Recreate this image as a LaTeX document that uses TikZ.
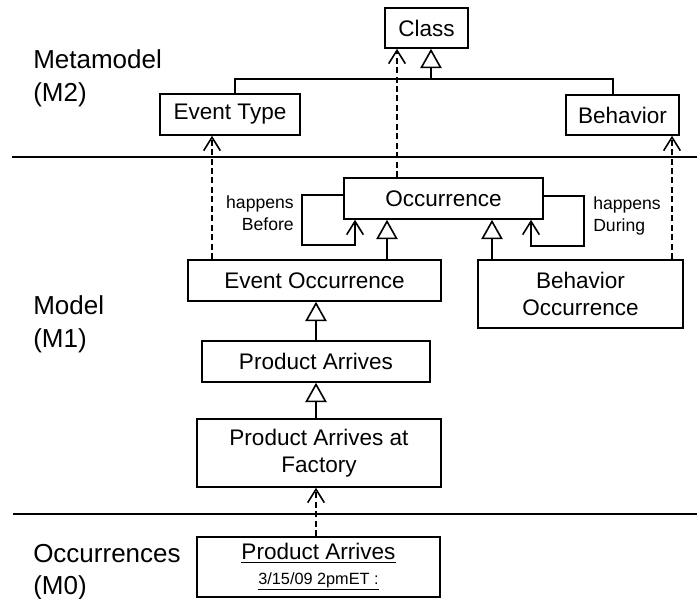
\documentclass[tikz,border=0pt]{standalone}
\usepackage{fontspec}
\setmainfont{Liberation Sans}
\usetikzlibrary{arrows.meta}
\newcommand\boxfont{\fontsize{16.9}{20.25}\selectfont}
\newcommand\lblfont{\fontsize{19.5}{24.75}\selectfont}
\newcommand\smfont{\fontsize{13.2}{16.5}\selectfont}
\newcommand\datefont{\fontsize{12.2}{14}\selectfont}
\tikzset{
  umlbox/.style={draw, line width=1.2pt, font=\boxfont, align=center, inner sep=0pt},
  gen/.style={line width=1.2pt, -{Triangle[open,length=14.5pt,width=16pt,fill=white]}},
  dep/.style={line width=1.2pt, dash pattern=on 4.5pt off 2.6pt, -{Straight Barb[length=10pt,width=12.5pt]}},
  assoc/.style={line width=1.2pt, -{Straight Barb[length=10pt,width=12.5pt]}},
  plain/.style={line width=1.2pt},
  sep/.style={line width=1.5pt},
  lvl/.style={font=\lblfont, anchor=base west, inner sep=0pt},
  role/.style={font=\smfont, inner sep=0pt}
}
\begin{document}
\begin{tikzpicture}[x=0.75pt,y=-0.75pt]
\useasboundingbox (0,0) rectangle (697,599);
% level labels
\node[lvl] (l2a) at (33,69) {Metamodel};
\node[lvl] (l2b) at (33,102) {(M2)};
\node[lvl] (l1a) at (33,315) {Model};
\node[lvl] (l1b) at (33,348) {(M1)};
\node[lvl] (l0a) at (33,562) {Occurrences};
\node[lvl] (l0b) at (33,594) {(M0)};
% separators
\draw[sep] (12,157) -- (697,157);
\draw[sep] (13,514) -- (697,514);
% boxes
\node[umlbox, minimum width=62.25pt, minimum height=30pt] (cls) at (426.5,28) {Class};
\node[umlbox, minimum width=105pt, minimum height=30.75pt] (et) at (230,114.5) {Event Type};
\node[umlbox, minimum width=84.75pt, minimum height=30pt] (beh) at (622.5,115) {Behavior};
\node[umlbox, minimum width=149.25pt, minimum height=30.75pt] (occ) at (443.5,198.5) {Occurrence};
\node[umlbox, minimum width=189.75pt, minimum height=30.75pt] (eo) at (314.5,280.5) {Event Occurrence};
\node[umlbox, minimum width=153.75pt, minimum height=51pt] (bo) at (580.5,294) {Behavior\\Occurrence};
\node[umlbox, minimum width=171pt, minimum height=30.75pt] (pa) at (316,361.5) {Product Arrives};
\node[umlbox, minimum width=183pt, minimum height=51pt] (paf) at (319,453) {Product Arrives at\\Factory};
\node[umlbox, minimum width=182.25pt, minimum height=45pt] (inst) at (318.5,567)
  {\underline{Product Arrives}\\[-2pt]{\datefont\underline{3/15/09 2pmET :}}};
% generalization tree to Class
\coordinate (hL) at (235,79);
\coordinate (hR) at (613,79);
\coordinate (hC) at (431,79);
\draw[plain] (hL |- et.north) -- (hL) -- (hR) -- (hR |- beh.north);
\draw[gen] (hC) -- (hC |- cls.south);
% dependencies
\coordinate (d1) at (397,0);
\coordinate (d2) at (212,0);
\coordinate (d3) at (672,0);
\coordinate (d4) at (316,0);
\draw[dep] (d1 |- occ.north) -- (d1 |- cls.south);
\draw[dep] (d2 |- eo.north) -- (d2 |- et.south);
\draw[dep] (d3 |- bo.north) -- (d3 |- beh.south);
\draw[dep] (d4 |- inst.north) -- (d4 |- paf.south);
% generalizations
\coordinate (g1) at (387,0);
\coordinate (g2) at (492,0);
\draw[gen] (g1 |- eo.north) -- (g1 |- occ.south);
\draw[gen] (g2 |- bo.north) -- (g2 |- occ.south);
\draw[gen] (d4 |- pa.north) -- (d4 |- eo.south);
\draw[gen] (d4 |- paf.north) -- (d4 |- pa.south);
% self associations
\coordinate (b1) at (302,195);
\coordinate (b2) at (355,245);
\draw[assoc] (b1 -| occ.west) -- (b1) |- (b2) -- (b2 |- occ.south);
\coordinate (r1) at (584,196);
\coordinate (r2) at (531,246);
\draw[assoc] (r1 -| occ.east) -- (r1) |- (r2) -- (r2 |- occ.south);
\node[role, anchor=east, align=right] (hb) at (294,213) {happens\\Before};
\node[role, anchor=west, align=left] (hd) at (593,216) {happens\\During};
\end{tikzpicture}
\end{document}
